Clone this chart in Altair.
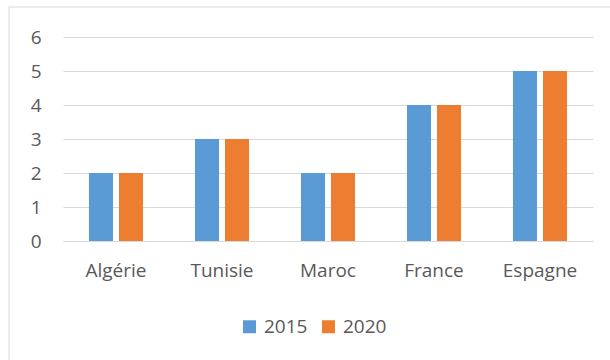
import altair as alt
import pandas as pd

countries = ["Algérie", "Tunisie", "Maroc", "France", "Espagne"]
values_2015 = [2, 3, 2, 4, 5]
values_2020 = [2, 3, 2, 4, 5]
years = ["2015", "2020"]
colors = ["#5b9bd5", "#ed7d31"]

rows = []
for c, a, b in zip(countries, values_2015, values_2020):
    rows.append({"pays": c, "annee": "2015", "valeur": a})
    rows.append({"pays": c, "annee": "2020", "valeur": b})
df = pd.DataFrame(rows)

FONT = "Open Sans"
FS = 19

bars = alt.Chart(df).mark_bar().encode(
    x=alt.X("pays:N", sort=countries, title=None,
            scale=alt.Scale(paddingInner=0.49, paddingOuter=0.245),
            axis=alt.Axis(labelAngle=0, domain=True, domainColor="#d9d9d9",
                          ticks=False, labelFontSize=FS, labelColor="#595959",
                          labelFont=FONT, labelPadding=20, grid=False)),
    xOffset=alt.XOffset("annee:N", scale=alt.Scale(paddingInner=0.2)),
    y=alt.Y("valeur:Q", title=None,
            scale=alt.Scale(domain=[0, 6]),
            axis=alt.Axis(values=[0, 1, 2, 3, 4, 5, 6], domain=False, ticks=False,
                          gridColor="#d9d9d9", labelFontSize=FS,
                          labelColor="#595959", labelFont=FONT, labelPadding=22)),
    color=alt.Color("annee:N", scale=alt.Scale(domain=years, range=colors),
                    legend=alt.Legend(title=None, orient="none", direction="horizontal",
                                      legendX=177, legendY=280,
                                      symbolType="square", symbolSize=169,
                                      symbolStrokeWidth=0, symbolOffset=0,
                                      labelOffset=5,
                                      labelFontSize=FS, labelColor="#595959",
                                      labelFont=FONT, columnPadding=11)),
)

border = alt.Chart(alt.Data(values=[{}])).mark_rect(
    fill=None, stroke="#d9d9d9", strokeWidth=1
).encode(x=alt.value(-54), x2=alt.value(600), y=alt.value(-30), y2=alt.value(400))

chart = alt.layer(border, bars).properties(
    width=530, height=204,
    background="white",
    autosize=alt.AutoSizeParams(type="none"),
    padding={"left": 63, "top": 37, "right": 17, "bottom": 119},
).configure_view(stroke=None)

chart.save("out.html", embed_options={"renderer": "svg", "actions": False})
